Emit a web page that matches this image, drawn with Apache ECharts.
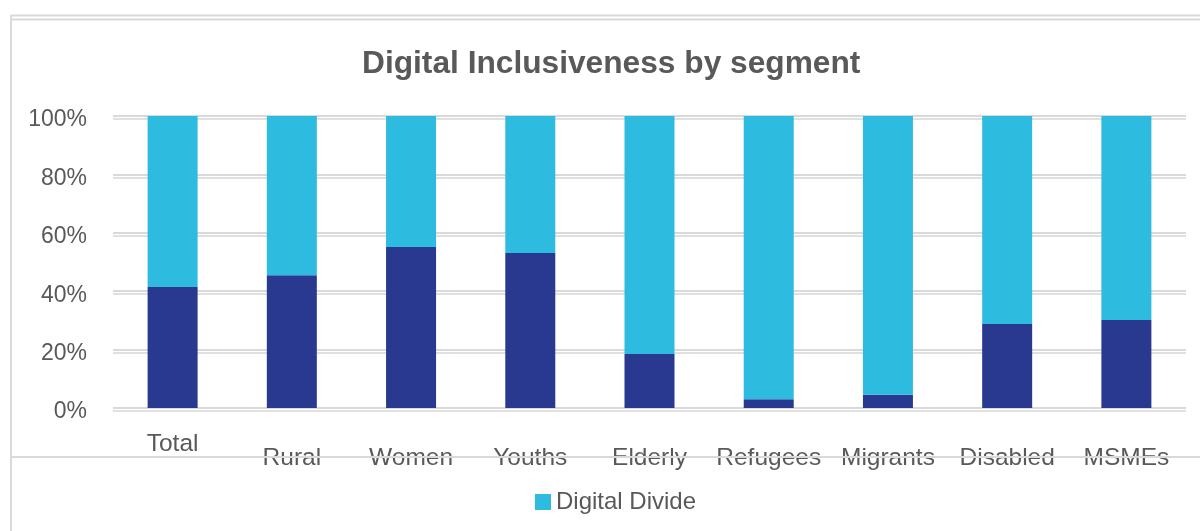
<!DOCTYPE html>
<html><head><meta charset="utf-8">
<script src="https://cdn.jsdelivr.net/npm/echarts@6/dist/echarts.min.js"></script>
<style>html,body{margin:0;padding:0;background:#fff}#c{width:1200px;height:531px}</style>
</head><body><div id="c"></div>
<script>
const categories = ['Total','Rural','Women','Youths','Elderly','Refugees','Migrants','Disabled','MSMEs'];
const inclusionValues = [41.4, 45.5, 55.1, 53.1, 18.5, 3.0, 4.5, 28.8, 30.1];
const divideValues = [58.6, 54.5, 44.9, 46.9, 81.5, 97.0, 95.5, 71.2, 69.9];
const yTicks = [0, 20, 40, 60, 80, 100];

const chart = echarts.init(document.getElementById('c'), null, {renderer:'canvas'});
const font = 'Liberation Sans, Arial, sans-serif';
chart.setOption({
  animation:false,
  backgroundColor:'#fff',
  title:{text:'Digital Inclusiveness by segment', left:357, top:43,
    textStyle:{fontFamily:font, fontSize:31.7, fontWeight:'bold', color:'#595959'}},
  legend:{data:['Digital Divide'], bottom:12, left:530, itemWidth:16, itemHeight:16, itemGap:7,
    icon:'rect', textStyle:{fontFamily:font, fontSize:24, color:'#595959'}},
  grid:{left:113, right:14, top:116, bottom:123},
  graphic:[
    {type:'line', shape:{x1:11,y1:15.5,x2:1200,y2:15.5}, style:{stroke:'#d9d9d9', lineWidth:2}},
    {type:'line', shape:{x1:11,y1:19.5,x2:1200,y2:19.5}, style:{stroke:'#d9d9d9', lineWidth:2}},
    {type:'line', shape:{x1:11,y1:15,x2:11,y2:531}, style:{stroke:'#d9d9d9', lineWidth:2}},
    {type:'line', shape:{x1:11,y1:457,x2:1200,y2:457}, style:{stroke:'#d9d9d9', lineWidth:2}, z:100}
  ],
  xAxis:{type:'category', data:categories,
    axisLine:{show:false}, axisTick:{show:false},
    axisLabel:{interval:0, margin:24,
      formatter:(v,i)=> i===0 ? '{a|'+v+'}' : '{b|'+v+'}',
      rich:{a:{fontFamily:font, fontSize:24.5, color:'#595959'},
            b:{fontFamily:font, fontSize:24.5, color:'#595959', padding:[14,0,0,0]}}}},
  yAxis:{type:'value', min:0, max:100, interval:20,
    axisLine:{show:false}, axisTick:{show:false},
    axisLabel:{margin:26, formatter:v=>yTicks.includes(v)? '{p|'+v+'%}':'',
      rich:{p:{fontFamily:font, fontSize:23, color:'#595959', padding:[8,0,0,0]}}},
    splitLine:{lineStyle:{color:'#d9d9d9', width:2, shadowColor:'#e0e0e0', shadowOffsetY:3, shadowBlur:0}}},
  series:[
    {name:'Digital Inclusion', type:'bar', stack:'s', data:inclusionValues, barWidth:50,
      itemStyle:{color:'#293990'}},
    {name:'Digital Divide', type:'bar', stack:'s', data:divideValues, barWidth:50,
      itemStyle:{color:'#2DBBDF'}}
  ]
});
</script></body></html>
